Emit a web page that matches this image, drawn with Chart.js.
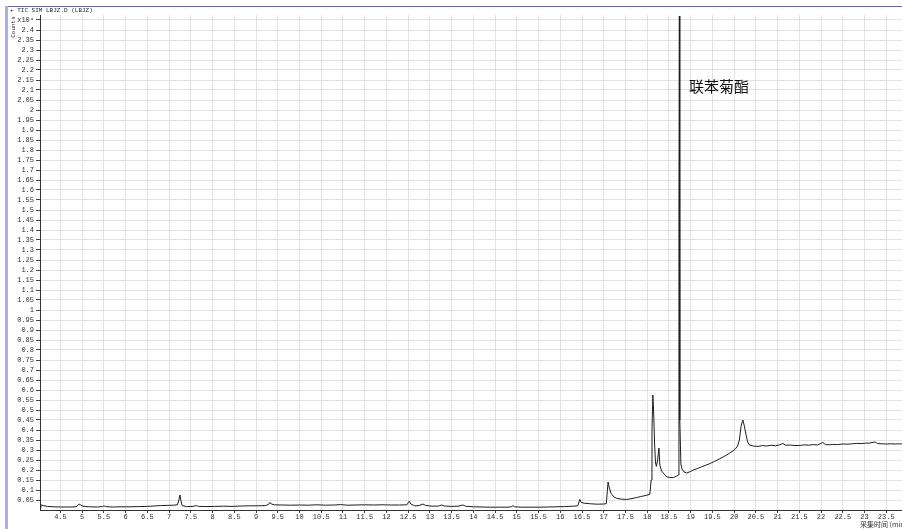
<!DOCTYPE html>
<html>
<head>
<meta charset="utf-8">
<script src="https://cdn.jsdelivr.net/npm/chart.js@4/dist/chart.umd.min.js"></script>
<style>
  html, body { margin: 0; padding: 0; background: #fff; overflow: hidden; }
  #wrap { position: relative; width: 930px; height: 529px; }
  canvas { display: block; }
</style>
</head>
<body>
<div id="wrap"><canvas id="tic" width="930" height="529"></canvas></div>
<script>
// TIC SIM trace, retention time (min) vs abundance (x10^4 counts)
const retentionTimes = [
  4.03, 4.05, 4.10, 4.20, 4.35, 4.50, 4.70, 4.86, 4.91, 4.93, 4.96, 5.02, 5.15, 5.35, 5.47, 5.50, 5.54, 5.70,
  5.90, 6.10, 6.30, 6.50, 6.65, 6.80, 6.95, 7.10, 7.19, 7.22, 7.25, 7.27, 7.30, 7.40, 7.55, 7.63, 7.68, 7.85,
  8.05, 8.25, 8.45, 8.65, 8.85, 9.05, 9.22, 9.29, 9.32, 9.35, 9.42, 9.60, 9.80, 10.00, 10.20, 10.40, 10.60,
  10.80, 10.95, 11.10, 11.30, 11.50, 11.70, 11.90, 12.10, 12.30, 12.47, 12.50, 12.53, 12.56, 12.65, 12.75,
  12.84, 12.90, 13.05, 13.20, 13.27, 13.33, 13.50, 13.65, 13.76, 13.82, 14.00, 14.20, 14.40, 14.60, 14.80,
  14.88, 14.91, 14.95, 15.10, 15.30, 15.50, 15.70, 15.90, 16.10, 16.30, 16.40, 16.43, 16.45, 16.48, 16.55,
  16.70, 16.85, 17.00, 17.06, 17.08, 17.10, 17.13, 17.17, 17.23, 17.30, 17.42, 17.53, 17.65, 17.75, 17.85,
  17.95, 18.06, 18.09, 18.11, 18.13, 18.15, 18.17, 18.19, 18.21, 18.24, 18.27, 18.29, 18.33, 18.37, 18.45,
  18.52, 18.60, 18.68, 18.71, 18.73, 18.74, 18.75, 18.775, 18.80, 18.85, 18.91, 19.00, 19.06, 19.15, 19.25,
  19.35, 19.45, 19.55, 19.65, 19.75, 19.83, 19.92, 20.02, 20.08, 20.12, 20.16, 20.20, 20.23, 20.27, 20.31,
  20.35, 20.44, 20.55, 20.65, 20.75, 20.85, 20.95, 21.05, 21.12, 21.18, 21.30, 21.40, 21.52, 21.62, 21.72,
  21.82, 21.92, 22.04, 22.10, 22.20, 22.27, 22.38, 22.50, 22.62, 22.72, 22.82, 22.92, 23.02, 23.12, 23.24,
  23.30, 23.40, 23.50, 23.60, 23.70, 23.80, 23.90, 24.00
];
const abundance = [
  0.010, 0.026, 0.022, 0.018, 0.016, 0.015, 0.015, 0.016, 0.024, 0.030, 0.026, 0.019, 0.016, 0.015, 0.017, 0.021, 0.017, 0.015,
  0.016, 0.016, 0.017, 0.018, 0.020, 0.022, 0.023, 0.024, 0.026, 0.045, 0.075, 0.050, 0.022, 0.017, 0.018, 0.022, 0.018, 0.017,
  0.018, 0.019, 0.018, 0.020, 0.021, 0.021, 0.022, 0.028, 0.038, 0.030, 0.026, 0.025, 0.024, 0.025, 0.024, 0.026, 0.024,
  0.025, 0.027, 0.024, 0.025, 0.026, 0.025, 0.026, 0.025, 0.025, 0.026, 0.036, 0.045, 0.030, 0.021, 0.022,
  0.030, 0.023, 0.019, 0.020, 0.025, 0.020, 0.018, 0.019, 0.025, 0.019, 0.016, 0.015, 0.014, 0.014, 0.014,
  0.017, 0.022, 0.016, 0.014, 0.014, 0.014, 0.015, 0.016, 0.017, 0.019, 0.021, 0.040, 0.053, 0.038, 0.034,
  0.031, 0.029, 0.030, 0.032, 0.090, 0.140, 0.110, 0.082, 0.066, 0.058, 0.054, 0.053, 0.057, 0.062, 0.067,
  0.072, 0.078, 0.150, 0.400, 0.575, 0.480, 0.330, 0.240, 0.218, 0.250, 0.310, 0.225, 0.195, 0.185, 0.165,
  0.163, 0.162, 0.170, 0.175, 1.500, 2.470, 0.450, 0.230, 0.205, 0.190, 0.185, 0.193, 0.200, 0.207, 0.216,
  0.224, 0.233, 0.243, 0.254, 0.266, 0.275, 0.288, 0.303, 0.320, 0.350, 0.420, 0.450, 0.425, 0.380, 0.340,
  0.325, 0.320, 0.318, 0.322, 0.320, 0.324, 0.321, 0.326, 0.333, 0.324, 0.325, 0.322, 0.323, 0.326, 0.324,
  0.327, 0.325, 0.338, 0.327, 0.326, 0.328, 0.327, 0.330, 0.329, 0.331, 0.333, 0.332, 0.334, 0.335, 0.340,
  0.332, 0.331, 0.330, 0.331, 0.330, 0.331, 0.330, 0.330
];

// Axis ticks
const xTicks = [
  4.5, 5, 5.5, 6, 6.5, 7, 7.5, 8, 8.5, 9, 9.5, 10, 10.5, 11, 11.5, 12, 12.5, 13, 13.5, 14,
  14.5, 15, 15.5, 16, 16.5, 17, 17.5, 18, 18.5, 19, 19.5, 20, 20.5, 21, 21.5, 22, 22.5, 23, 23.5
];
const yTicks = [
  0.05, 0.1, 0.15, 0.2, 0.25, 0.3, 0.35, 0.4, 0.45, 0.5, 0.55, 0.6, 0.65, 0.7, 0.75, 0.8, 0.85, 0.9, 0.95, 1,
  1.05, 1.1, 1.15, 1.2, 1.25, 1.3, 1.35, 1.4, 1.45, 1.5, 1.55, 1.6, 1.65, 1.7, 1.75, 1.8, 1.85, 1.9, 1.95, 2,
  2.05, 2.1, 2.15, 2.2, 2.25, 2.3, 2.35, 2.4, 2.45
];
const yScaleLabel = 'x10\u2074';   // shown on the top tick
const peakName = '联苯菊酯';
const headerText = '+ TIC SIM LBJZ.D (LBJZ)';
const yTitle = 'Counts';
const xTitle = '采集时间 (min)';

const MONO = '"Liberation Mono", "DejaVu Sans Mono", monospace';
const tickFont = { family: MONO, size: 7 };

const frameDecor = {
  id: 'frameDecor',
  afterDraw(chart) {
    const ctx = chart.ctx;
    ctx.save();
    // window frame: top rule and left stripe
    ctx.fillStyle = '#6465ad';
    ctx.fillRect(5, 6, chart.width, 1);
    ctx.fillStyle = '#a9b2e2';
    ctx.fillRect(5, 6, 3, chart.height);

    ctx.fillStyle = '#2a2a2a';
    ctx.font = '6px ' + MONO;
    ctx.textBaseline = 'middle';
    ctx.textAlign = 'left';
    ctx.fillText(headerText, 10, 10.5);

    // vertical axis title
    ctx.save();
    ctx.translate(13, 27);
    ctx.rotate(-Math.PI / 2);
    ctx.textAlign = 'center';
    ctx.fillText(yTitle, 0, 0);
    ctx.restore();

    // horizontal axis title, bottom right
    ctx.font = '7px "Noto Sans CJK SC", sans-serif';
    ctx.textAlign = 'left';
    ctx.textBaseline = 'middle';
    ctx.fillStyle = '#333';
    ctx.fillText(xTitle, 860, 524.5);

    // compound label next to the main peak
    ctx.font = '15px "Noto Sans CJK SC", sans-serif';
    ctx.fillStyle = '#111';
    ctx.fillText(peakName, 689, 86);
    ctx.restore();
  }
};

const ctx = document.getElementById('tic').getContext('2d');
new Chart(ctx, {
  type: 'line',
  data: {
    datasets: [{
      data: retentionTimes.map((t, i) => ({ x: t, y: abundance[i] })),
      borderColor: '#1e1e1e',
      borderWidth: 1,
      pointRadius: 0,
      tension: 0,
      fill: false
    }]
  },
  options: {
    responsive: false,
    animation: false,
    devicePixelRatio: 1,
    layout: { padding: { top: 15, right: 22, left: 0, bottom: 0 } },
    plugins: { legend: { display: false }, tooltip: { enabled: false } },
    scales: {
      x: {
        type: 'linear',
        min: 4.03,
        max: 24.0,
        afterBuildTicks: s => { s.ticks = xTicks.map(v => ({ value: v })); },
        afterFit: s => { s.height = 19; },
        ticks: {
          font: tickFont, color: '#2e2e2e', padding: 0,
          autoSkip: false, maxRotation: 0,
          callback: v => String(v)
        },
        grid: { color: '#e3e3e3', tickColor: '#444', tickLength: 3, lineWidth: 1 },
        border: { display: true, color: '#333', width: 1 }
      },
      y: {
        type: 'linear',
        min: 0,
        max: 2.475,
        afterBuildTicks: s => { s.ticks = yTicks.map(v => ({ value: v })); },
        afterFit: s => { s.width = 40; },
        ticks: {
          font: tickFont, color: '#2e2e2e', padding: 2,
          autoSkip: false,
          callback: v => (v === 2.45 ? yScaleLabel : String(v))
        },
        grid: { color: '#e3e3e3', tickColor: '#444', tickLength: 4, lineWidth: 1 },
        border: { display: true, color: '#333', width: 1 }
      }
    }
  },
  plugins: [frameDecor]
});
</script>
</body>
</html>
